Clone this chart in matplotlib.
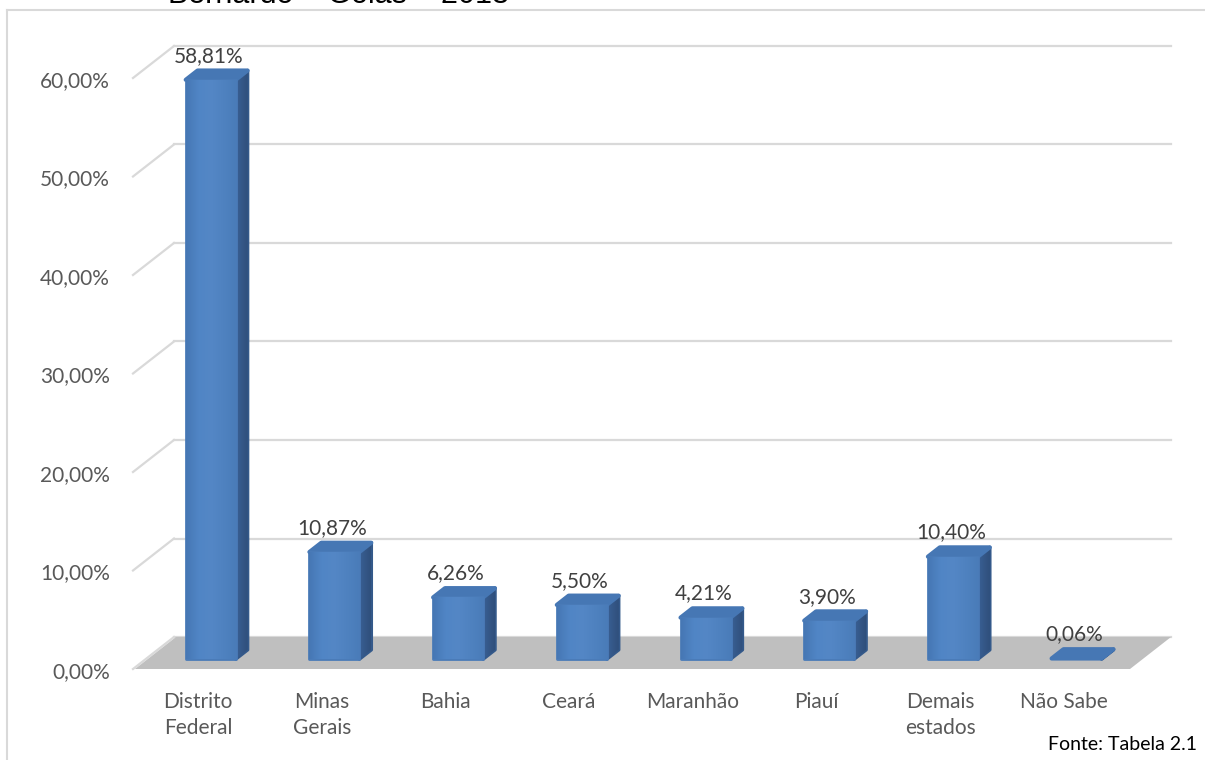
import matplotlib
matplotlib.use("Agg")
import matplotlib.pyplot as plt
from matplotlib.patches import Polygon
from matplotlib.lines import Line2D
from matplotlib.colors import LinearSegmentedColormap
import numpy as np

# Data
categories = ["Distrito\nFederal", "Minas\nGerais", "Bahia", "Ceará",
              "Maranhão", "Piauí", "Demais\nestados", "Não Sabe"]
values = [58.81, 10.87, 6.26, 5.50, 4.21, 3.90, 10.40, 0.06]
y_ticks = [0, 10, 20, 30, 40, 50, 60]
title_tail = "Bernardo – Goiás – 2013"
source = "Fonte: Tabela 2.1"

# Layout (pixels of the 1205x760 picture)
W, H = 1205, 760
CAT0_PX = 198.0      # x of first category on the front plane
PX_CAT = 123.7       # pixels per category
ZERO_PX = 669.0      # y (from top) of 0% on the front plane
PX_PCT = 9.85        # pixels per percent
DEPTH_X = 41 / PX_CAT
DEPTH_Y = 32 / PX_PCT


def px2x(p):
    return (p - CAT0_PX) / PX_CAT


def py2y(p):
    return (ZERO_PX - p) / PX_PCT


def pct(v):
    return f"{v:.2f}%".replace(".", ",")


plt.rcParams['font.family'] = ['Lato', 'DejaVu Sans']

fig = plt.figure(figsize=(W / 100, H / 100), dpi=100)
ax = fig.add_axes([0, 0, 1, 1])
ax.axis('off')

grid_col = "#D9D9D9"
text_col = "#595959"

# chart border (top and left edges visible)
fig.add_artist(Line2D([7 / W, 7 / W], [0, 1 - 10 / H], color=grid_col, lw=1.5))
fig.add_artist(Line2D([7 / W, 1], [1 - 10 / H, 1 - 10 / H], color=grid_col, lw=1.5))

# gridlines: back wall + side wall diagonals
gx_front = px2x(133)
gx_back = gx_front + DEPTH_X
gx_end = px2x(1171)
for v in y_ticks:
    ax.plot([gx_front, gx_back], [v, v + DEPTH_Y], color=grid_col, lw=1.6, zorder=1)
    ax.plot([gx_back, gx_end], [v + DEPTH_Y, v + DEPTH_Y], color=grid_col, lw=1.6, zorder=1)
    ax.text(px2x(110), v - 0.3, pct(v), ha='right', va='center',
            fontsize=15, color=text_col)

# floor
fx0, fx1 = px2x(135), px2x(1130)
floor = Polygon([(fx0, 0), (fx1, 0), (fx1 + DEPTH_X, DEPTH_Y), (fx0 + DEPTH_X, DEPTH_Y)],
                closed=True, facecolor="#BFBFBF", edgecolor="none", zorder=2)
ax.add_patch(floor)

# bars
front_cmap = LinearSegmentedColormap.from_list(
    "front", ["#4677B4", "#5085C5", "#5487C6", "#4F82C0", "#4A7CB9"])
side_cmap = LinearSegmentedColormap.from_list("side", ["#3A6094", "#2F4F7C"])
grad = np.linspace(0, 1, 256).reshape(1, -1)

f0, f1 = 0.31, 0.60
half = 25 / PX_CAT
ddx = (f1 - f0) * DEPTH_X
ddy = (f1 - f0) * DEPTH_Y
for i, v in enumerate(values):
    xc = i + f0 * DEPTH_X
    xl, xr = xc - half, xc + half
    yb = f0 * DEPTH_Y
    yt = v + yb

    side = Polygon([(xr, yb), (xr + ddx, yb + ddy), (xr + ddx, yt + ddy), (xr, yt)],
                   closed=True, facecolor="#34598A", edgecolor="#34598A",
                   lw=2.5, joinstyle='round', zorder=3)
    ax.add_patch(side)
    im = ax.imshow(grad, extent=(xr, xr + ddx, yb, yt + ddy), aspect='auto',
                   cmap=side_cmap, zorder=3.1)
    im.set_clip_path(side)

    top = Polygon([(xl, yt), (xr, yt), (xr + ddx, yt + ddy), (xl + ddx, yt + ddy)],
                  closed=True, facecolor="#4677B4", edgecolor="#4677B4",
                  lw=3, joinstyle='round', zorder=3.2)
    ax.add_patch(top)

    if v > 0.5:
        front = Polygon([(xl, yb), (xr, yb), (xr, yt), (xl, yt)], closed=True,
                        facecolor="#4F81BD", edgecolor="#4A7BB8",
                        lw=2, joinstyle='round', zorder=4)
        ax.add_patch(front)
        im = ax.imshow(grad, extent=(xl, xr, yb, yt), aspect='auto',
                       cmap=front_cmap, zorder=4.1)
        im.set_clip_path(front)

    ax.text(i + 0.087, v + 3.45, pct(v), ha='center', va='center',
            fontsize=15, color="#404040")

# category labels
for i, c in enumerate(categories):
    ax.text(i, py2y(692), c, ha='center', va='top', fontsize=15,
            color=text_col, linespacing=1.4)

# source note
ax.text(px2x(1197), py2y(745), source, ha='right', va='center',
        fontsize=14, color="black")

# title (only its lower part is inside the picture, as in the original)
fig.text(168 / W, 1 - 3 / H, title_tail, ha='left', va='baseline',
         fontsize=22, color="black", family=['Liberation Sans', 'DejaVu Sans'])

ax.set_xlim(px2x(0), px2x(W))
ax.set_ylim(py2y(H), py2y(0))

fig.savefig("out.png", dpi=100)
